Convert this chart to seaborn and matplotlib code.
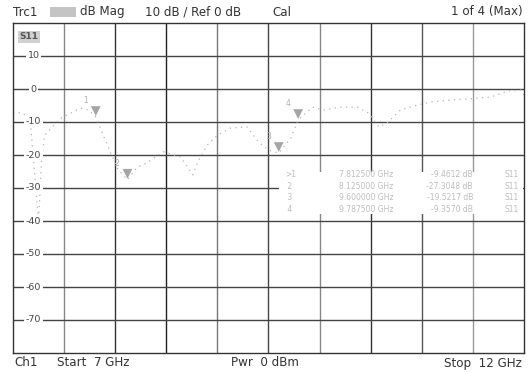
import numpy as np
import pandas as pd
import matplotlib
matplotlib.use("Agg")
import matplotlib.pyplot as plt
import seaborn as sns

# ---- data ----
freq_ghz = [7.00, 7.10, 7.17, 7.25, 7.28, 7.31, 7.46, 7.66, 7.74, 7.81, 7.95, 8.03, 8.12,
            8.22, 8.31, 8.47, 8.64, 8.76, 8.81, 8.90, 9.00, 9.13, 9.29, 9.40, 9.50, 9.60,
            9.72, 9.79, 9.93, 10.03, 10.21, 10.37, 10.48, 10.58, 10.66, 10.79, 10.92,
            11.09, 11.31, 11.46, 11.68, 11.84, 11.97, 12.00]
s11_db = [-7.0, -7.3, -10.0, -40.0, -21.5, -14.0, -9.0, -5.8, -6.4, -8.5, -19.0, -24.5, -27.5,
          -23.6, -22.4, -19.0, -20.6, -26.0, -22.0, -17.0, -14.0, -11.8, -11.5, -16.0, -18.5, -19.4,
          -14.8, -9.4, -5.5, -6.4, -5.5, -5.5, -7.3, -11.5, -10.3, -6.4, -5.2,
          -3.9, -3.3, -3.0, -2.4, -0.6, -0.3, -1.8]

marker_names = ["1", "2", "3", "4"]
marker_freq = [7.81, 8.12, 9.60, 9.79]
marker_db = [-8.5, -27.5, -19.4, -9.4]
marker_table = [
    (">1", "7.812500 GHz", "-9.4612 dB", "S11"),
    (" 2", "8.125000 GHz", "-27.3048 dB", "S11"),
    (" 3", "9.600000 GHz", "-19.5217 dB", "S11"),
    (" 4", "9.787500 GHz", "-9.3570 dB", "S11"),
]
y_ticks = [10, 0, -10, -20, -30, -40, -50, -60, -70]
y_tick_labels = ["10", "0", "-10", "-20", "-30", "-40", "-50", "-60", "-70"]

header_left = ["Trc1", "dB Mag", "10 dB / Ref 0 dB", "Cal"]
header_right = "1 of 4 (Max)"
footer = ["Ch1", "Start  7 GHz", "Pwr  0 dBm", "Stop  12 GHz"]

# ---- figure ----
sns.set_theme(style="white")
plt.rcParams["font.family"] = ["DejaVu Sans"]

W, H = 529, 372
fig = plt.figure(figsize=(W / 100, H / 100), dpi=100)
fig.patch.set_facecolor("white")

L, R, T, B = 13, 524, 23, 353
ax = fig.add_axes([L / W, 1 - B / H, (R - L) / W, (B - T) / H])
ax.set_xlim(7, 12)
ax.set_ylim(-80, 20)
ax.set_xticks([])
ax.set_yticks([])
for s in ax.spines.values():
    s.set_color("#333333")
    s.set_linewidth(1.0)

def fx(px):
    return px / W

def fy(py):
    return 1 - py / H

# grid
vcols = ["#888888", "#333333", "#222222", "#777777", "#444444", "#888888", "#333333", "#555555", "#999999"]
for i, c in enumerate(vcols):
    ax.axvline(7 + 0.5 * (i + 1), color=c, lw=1.0, zorder=1)
for yv in range(10, -80, -10):
    ax.axhline(yv, color="#444444", lw=1.0, zorder=1)

# tick labels inside plot
for yv, lab in zip(y_ticks, y_tick_labels):
    ax.text(7.2, yv, lab, ha="center", va="center", fontsize=6.8, color="#444444",
            bbox=dict(facecolor="white", edgecolor="none", pad=1.2), zorder=3)

# S11 label
ax.text(7.16, 15.8, "S11", ha="center", va="center", fontsize=6.5, color="#555555",
        fontweight="bold",
        bbox=dict(facecolor="#d0d0d0", edgecolor="none", pad=1.0), zorder=3)

# marker table box (covers the grid)
ax.add_patch(plt.Rectangle((9.6, -38.0), 2.39, 13.0, facecolor="white", edgecolor="none", zorder=4))
rows_y = [-26.0, -29.5, -33.0, -36.5]
col_x = [9.66, 10.72, 11.50, 11.95]
col_ha = ["left", "right", "right", "right"]
for ytxt, row in zip(rows_y, marker_table):
    for xc, ha, cell in zip(col_x, col_ha, row):
        ax.text(xc, ytxt, cell, ha=ha, va="center", fontsize=5.5, color="#bdbdbd", zorder=5)

# trace
df = pd.DataFrame({"f": freq_ghz, "db": s11_db})
sns.lineplot(data=df, x="f", y="db", ax=ax, color="#b4b4b4", lw=0.9, zorder=2,
             linestyle=(0, (1, 3.5)), legend=False)
ax.set_xlabel("")
ax.set_ylabel("")

# markers
mdf = pd.DataFrame({"f": marker_freq, "db": [d + 1.8 for d in marker_db], "name": marker_names})
sns.scatterplot(data=mdf, x="f", y="db", ax=ax, marker="v", s=50, color="#a6a6a6",
                edgecolor="none", zorder=6, legend=False)
for f, d, n in zip(marker_freq, marker_db, marker_names):
    ax.text(f - 0.1, d + 5.0, n, ha="center", va="center", fontsize=5.5, color="#b0b0b0", zorder=6)
ax.set_xlabel("")
ax.set_ylabel("")

# header
hs = 8.6
tc = "#333333"
ty = fy(12)
fig.text(fx(13), ty, header_left[0], ha="left", va="center", fontsize=hs, color=tc)
fig.patches.append(plt.Rectangle((fx(50), fy(17)), fx(26), 10 / H, transform=fig.transFigure,
                                 facecolor="#c4c4c4", edgecolor="none"))
fig.text(fx(80), ty, header_left[1], ha="left", va="center", fontsize=hs, color=tc)
fig.text(fx(145), ty, header_left[2], ha="left", va="center", fontsize=hs, color=tc)
fig.text(fx(272), ty, header_left[3], ha="left", va="center", fontsize=hs, color=tc)
fig.text(fx(523), ty, header_right, ha="right", va="center", fontsize=hs, color=tc)

# footer
by = fy(363)
fig.text(fx(14), by, footer[0], ha="left", va="center", fontsize=hs, color=tc)
fig.text(fx(57), by, footer[1], ha="left", va="center", fontsize=hs, color=tc)
fig.text(fx(231), by, footer[2], ha="left", va="center", fontsize=hs, color=tc)
fig.text(fx(522), by, footer[3], ha="right", va="center", fontsize=hs, color=tc)

fig.savefig("out.png", dpi=100, facecolor="white")
